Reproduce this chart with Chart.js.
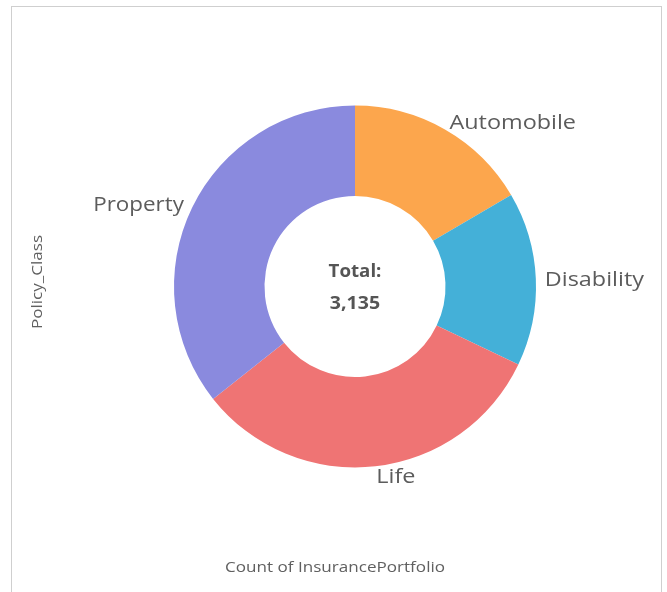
<!DOCTYPE html>
<html>
<head>
<meta charset="utf-8">
<script src="https://cdn.jsdelivr.net/npm/chart.js@4"></script>
<style>
  html, body { margin: 0; padding: 0; background: #fff; }
  #wrap { position: relative; width: 667px; height: 592px; overflow: hidden; }
  #frame { position: absolute; left: 11px; top: 6px; width: 651px; height: 620px;
           border: 1px solid #cfcfcf; box-sizing: border-box; }
  canvas { position: absolute; left: 0; top: 0; }
</style>
</head>
<body>
<div id="wrap">
  <div id="frame"></div>
  <canvas id="c" width="667" height="592"></canvas>
</div>
<script>
// Policy classes and their record counts
const categories = ['Automobile', 'Disability', 'Life', 'Property'];
const counts = [519, 487, 1011, 1118];
const sliceColors = ['#fca64d', '#44b0d8', '#ef7474', '#8a8ade'];
const xTitle = 'Count of InsurancePortfolio';
const yTitle = 'Policy_Class';

const FONT = '"Open Sans", "Noto Sans", sans-serif';
const total = counts.reduce((a, b) => a + b, 0);

// Text drawn with a slight horizontal stretch for a wider face
function wideText(ctx, text, x, y, stretch, rotate) {
  ctx.save();
  ctx.translate(x, y);
  if (rotate) ctx.rotate(rotate);
  ctx.scale(stretch, 1);
  ctx.fillText(text, 0, 0);
  ctx.restore();
}

// Category labels outside each arc, centre total, and the axis captions
const annotate = {
  id: 'annotate',
  afterDraw(chart) {
    const ctx = chart.ctx;
    const meta = chart.getDatasetMeta(0);
    ctx.save();
    ctx.fillStyle = '#5c5c5c';
    ctx.font = '20px ' + FONT;
    ctx.textBaseline = 'middle';
    meta.data.forEach((arc, i) => {
      const p = arc.getProps(['x', 'y', 'startAngle', 'endAngle', 'outerRadius'], true);
      const mid = (p.startAngle + p.endAngle) / 2;
      const r = p.outerRadius + 9;
      const x = p.x + Math.cos(mid) * r;
      const y = p.y + Math.sin(mid) * r + 2;
      const right = Math.cos(mid) >= 0;
      ctx.textAlign = right ? 'left' : 'right';
      wideText(ctx, categories[i], x, y, right ? 1.17 : 1.12);
    });

    const cx = meta.data[0].x, cy = meta.data[0].y;
    ctx.textAlign = 'center';
    ctx.fillStyle = '#555';
    ctx.font = 'bold 17px ' + FONT;
    wideText(ctx, 'Total:', cx, cy - 14, 1.1);
    wideText(ctx, total.toLocaleString('en-US'), cx, cy + 18, 1.15);

    ctx.font = '14px ' + FONT;
    ctx.fillStyle = '#606060';
    wideText(ctx, xTitle, 335, 568, 1.22);
    wideText(ctx, yTitle, 38, 282, 1.22, -Math.PI / 2);
    ctx.restore();
  }
};

new Chart(document.getElementById('c'), {
  type: 'doughnut',
  data: {
    labels: categories,
    datasets: [{
      data: counts,
      backgroundColor: sliceColors,
      borderWidth: 0,
      hoverOffset: 0
    }]
  },
  options: {
    responsive: false,
    devicePixelRatio: 1,
    animation: false,
    cutout: '50%',
    layout: { padding: { left: 174, right: 131, top: 105, bottom: 124 } },
    plugins: {
      legend: { display: false },
      tooltip: { enabled: false },
      title: { display: false }
    }
  },
  plugins: [annotate]
});
</script>
</body>
</html>
